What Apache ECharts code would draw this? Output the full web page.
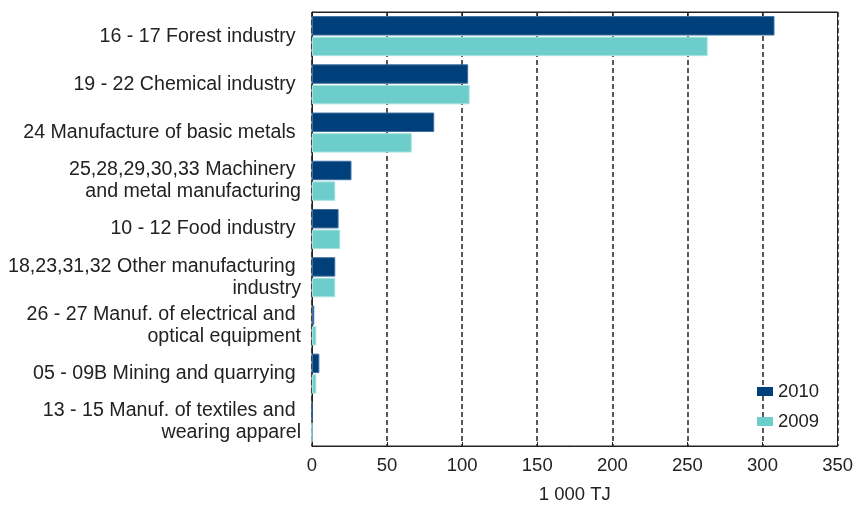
<!DOCTYPE html>
<html><head><meta charset="utf-8">
<script src="https://cdn.jsdelivr.net/npm/echarts@6/dist/echarts.min.js"></script>
<style>html,body{margin:0;padding:0;background:#fff}#c{width:856px;height:509px}</style>
</head><body><div id="c"></div>
<script>
var categories = [
  "16 - 17 Forest industry ",
  "19 - 22 Chemical industry ",
  "24 Manufacture of basic metals ",
  "25,28,29,30,33 Machinery \nand metal manufacturing",
  "10 - 12 Food industry ",
  "18,23,31,32 Other manufacturing \nindustry",
  "26 - 27 Manuf. of electrical and \noptical equipment",
  "05 - 09B Mining and quarrying ",
  "13 - 15 Manuf. of textiles and \nwearing apparel"
];
var values2010 = [308, 104, 81.4, 26.3, 17.7, 15.5, 1.5, 4.9, 0];
var values2009 = [263.5, 105, 66.4, 15.5, 18.8, 15.5, 2.9, 2.9, 0];
var xTicks = [0, 50, 100, 150, 200, 250, 300, 350];
var seriesNames = ["2010", "2009"];
var axisTitle = "1 000 TJ";

var font = "Liberation Sans, Arial, sans-serif";
var fs = 18.5;
var chart = echarts.init(document.getElementById('c'), null, {renderer: 'canvas'});
var axisMax = xTicks[xTicks.length - 1];
chart.setOption({
  animation: false,
  textStyle: {fontFamily: font},
  grid: {left: 312, right: 17, top: 12, bottom: 62, show: true, borderColor: '#222', borderWidth: 1, containLabel: false},
  legend: {
    orient: 'vertical', left: 752, top: 377,
    itemWidth: 16, itemHeight: 9, itemGap: 11, itemTextGap: 6,
    itemStyle: {borderWidth: 0},
    textStyle: {fontSize: fs, color: '#222', fontFamily: font},
    data: seriesNames, icon: 'rect'
  },
  xAxis: [{
    type: 'value', min: 0, max: axisMax, interval: 50,
    name: axisTitle, nameLocation: 'middle', nameGap: 39,
    nameTextStyle: {fontSize: fs, color: '#222'},
    axisLine: {show: true, lineStyle: {color: '#222'}},
    axisTick: {show: true, inside: true, length: 4, lineStyle: {color: '#222'}},
    axisLabel: {fontSize: fs, color: '#222', margin: 10},
    splitLine: {show: true, lineStyle: {color: '#222', type: [5, 3], width: 1.5}}
  }, {
    type: 'value', min: 0, max: axisMax, interval: 50, position: 'top',
    axisLine: {show: true, lineStyle: {color: '#222'}},
    axisTick: {show: true, inside: true, length: 4, lineStyle: {color: '#222'}},
    axisLabel: {show: false}, splitLine: {show: false}
  }],
  yAxis: {
    type: 'category', inverse: true, data: categories,
    axisLine: {show: true, lineStyle: {color: '#222'}},
    axisTick: {show: false},
    axisLabel: {fontSize: 19.6, color: '#222', margin: 11, lineHeight: 22, align: 'right'}
  },
  series: [{
    name: seriesNames[0], type: 'bar', data: values2010,
    barCategoryGap: '17%', barGap: '6%',
    itemStyle: {color: '#00407a', borderColor: '#3f6fa0', borderWidth: 1}
  }, {
    name: seriesNames[1], type: 'bar', data: values2009,
    barCategoryGap: '17%', barGap: '6%',
    itemStyle: {color: '#6dcdca', borderColor: '#a8e2e0', borderWidth: 1}
  }]
});
</script></body></html>
